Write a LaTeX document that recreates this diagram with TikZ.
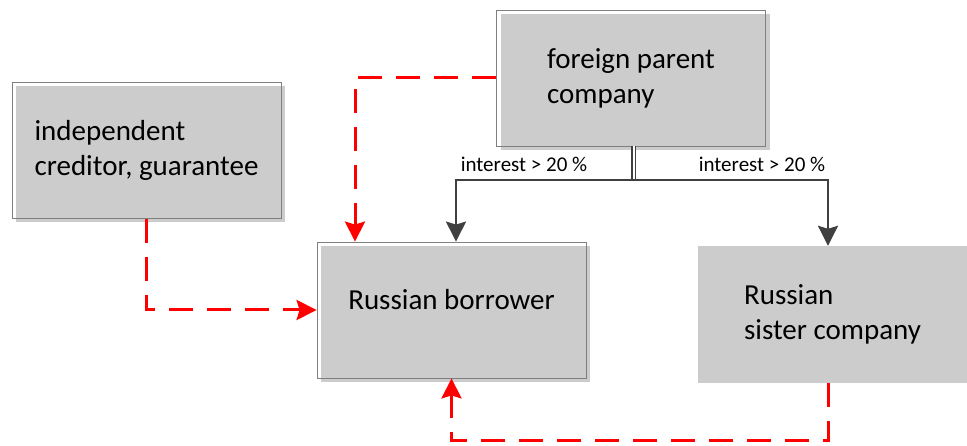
\documentclass[tikz,border=0pt]{standalone}
\usepackage{fontspec}
\setmainfont{Carlito}
\usetikzlibrary{arrows.meta,shadows}
\definecolor{boxgray}{HTML}{CCCCCC}
\definecolor{framegray}{HTML}{7F7F7F}
\definecolor{linkgray}{HTML}{404040}
\begin{document}
\begin{tikzpicture}[x=1pt,y=-1pt,
		box/.style={draw=framegray,line width=0.8pt,minimum width=269pt,minimum height=136pt,
			inner sep=0pt,align=left,font=\fontsize{29}{35}\selectfont,
			drop shadow={shadow xshift=4pt,shadow yshift=-4pt,fill=boxgray,opacity=1}},
		plainbox/.style={fill=boxgray,minimum width=269pt,minimum height=137pt,
			inner sep=0pt,align=left,font=\fontsize{29}{35}\selectfont},
		link/.style={draw=linkgray,line width=2.5pt,-{Stealth[inset=3pt,length=20pt,width=20pt]}},
		dbl/.style={draw=linkgray,line width=1.5pt,double=white,double distance=2pt},
		redlink/.style={draw=red,line width=3pt,dash pattern=on 24pt off 14pt,
			-{Stealth[inset=3pt,length=20pt,width=20pt]}},
		lbl/.style={font=\fontsize{21}{25}\selectfont,inner sep=0pt,anchor=base}]
		\useasboundingbox (0,0) rectangle (967,446);
		% boxes
		\node[box] (parent) at (631,78) {foreign parent\\company};
		\node[box] (creditor) at (146.5,150.5) {independent\\creditor, guarantee};
		\node[box,text depth=22pt] (borrower) at (451.5,310) {Russian borrower};
		\node[plainbox] (sister) at (832.5,314.5) {Russian\\sister company};
		% ownership
		\coordinate (split) at (633.5,180);
		\draw[dbl] (parent.south -| split) -- (split);
		\draw[link] (split) -| ([xshift=4.5pt]borrower.north);
		\draw[link] (split) -| ([xshift=-4.5pt]sister.north);
		\node[lbl] (intA) at (524,172) {interest > 20 \%};
		\node[lbl] (intB) at (762,172) {interest > 20 \%};
		% loans
		\draw[redlink] (parent.west) -| ([xshift=-96.5pt]borrower.north);
		\draw[redlink] (creditor.south) |- (borrower.west);
		\draw[redlink] ([xshift=-4.5pt]sister.south) -- ++(0,57) -| (borrower.south);
	\end{tikzpicture}
\end{document}
